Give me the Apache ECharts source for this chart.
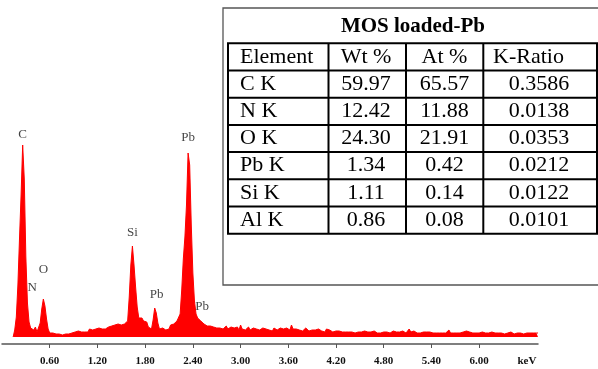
<!DOCTYPE html>
<html>
<head>
<meta charset="utf-8">
<script src="https://cdn.jsdelivr.net/npm/echarts@6/dist/echarts.min.js"></script>
<style>
  html, body { margin: 0; padding: 0; background: #fff; }
  #chart { width: 598px; height: 369px; }
</style>
</head>
<body>
<div id="chart"></div>
<script>
// EDS spectrum: counts per channel, channels start at 0.14 keV, 0.02 keV apart
const energyStart = 0.14;
const energyStep = 0.02;
const counts = [
  0, 7, 20, 52, 98, 142, 192, 158, 80, 34,
  15, 9, 11, 7, 10, 5, 4, 14, 28, 38,
  31, 18, 8, 4, 3, 4, 2, 3, 2, 3,
  3, 2, 4, 3, 5, 3, 4, 4, 3, 5,
  4, 6, 4, 5, 7, 5, 6, 5, 8, 6,
  7, 6, 8, 7, 9, 7, 8, 10, 8, 9,
  10, 9, 11, 9, 12, 10, 13, 11, 12, 14,
  13, 12, 16, 40, 72, 91, 72, 50, 30, 19,
  17, 19, 16, 18, 15, 10, 9, 8, 17, 29,
  24, 14, 8, 7, 9, 8, 7, 9, 8, 12,
  12, 13, 15, 16, 18, 23, 47, 78, 100, 132,
  184, 172, 112, 64, 36, 23, 19, 18, 16, 15,
  13, 12, 11, 10, 11, 9, 10, 11, 9, 10,
  9, 10, 8, 9, 11, 8, 9, 10, 8, 9,
  8, 10, 7, 12, 8, 9, 7, 8, 10, 7,
  8, 9, 7, 8, 10, 7, 8, 9, 7, 8,
  9, 7, 8, 6, 9, 8, 7, 8, 9, 7,
  8, 7, 9, 8, 7, 12, 8, 7, 8, 6,
  7, 8, 6, 7, 9, 7, 6, 8, 7, 6,
  7, 6, 8, 7, 6, 7, 5, 8, 6, 7,
  6, 5, 7, 6, 5, 6, 7, 5, 6, 5,
  6, 5, 7, 5, 6, 4, 6, 5, 7, 5,
  5, 6, 4, 5, 6, 5, 4, 6, 5, 4,
  5, 4, 6, 5, 4, 5, 6, 4, 5, 6,
  4, 5, 7, 5, 4, 6, 5, 4, 5, 8,
  5, 4, 6, 5, 4, 5, 4, 6, 5, 4,
  5, 4, 5, 6, 4, 5, 4, 5, 4, 6,
  4, 5, 4, 5, 7, 4, 5, 4, 5, 4,
  5, 4, 4, 5, 4, 6, 4, 5, 4, 4,
  5, 4, 5, 4, 4, 5, 4, 4, 5, 4,
  4, 5, 4, 4, 3, 4, 5, 4, 4, 3,
  4, 4, 3, 5, 4, 3, 4, 4, 3, 4,
  4, 3, 4, 4, 3, 4, 3, 4, 3, 4,
  4
];

// Peak identifications
const peakNames = ['C', 'N', 'O', 'Si', 'Pb', 'Pb', 'Pb'];
const peakEnergies = [0.26, 0.38, 0.52, 1.64, 1.92, 2.34, 2.48];

// Energy axis ticks
const tickValues = [0.6, 1.2, 1.8, 2.4, 3.0, 3.6, 4.2, 4.8, 5.4, 6.0];
const tickLabels = ['0.60', '1.20', '1.80', '2.40', '3.00', '3.60', '4.20', '4.80', '5.40', '6.00'];
const unitValue = 6.6;
const unitLabel = 'keV';

// Quantification table
const tableTitle = 'MOS loaded-Pb';
const tableHeader = ['Element', 'Wt %', 'At %', 'K-Ratio'];
const elements = ['C K', 'N K', 'O K', 'Pb K', 'Si K', 'Al K'];
const wtPercent = ['59.97', '12.42', '24.30', '1.34', '1.11', '0.86'];
const atPercent = ['65.57', '11.88', '21.91', '0.42', '0.14', '0.08'];
const kRatio = ['0.3586', '0.0138', '0.0353', '0.0212', '0.0122', '0.0101'];

const spectrum = counts.map((c, i) => [+(energyStart + i * energyStep).toFixed(2), c]);

function countAt(e) {
  const i = Math.round((e - energyStart) / energyStep);
  return counts[Math.max(0, Math.min(counts.length - 1, i))];
}

// label placement relative to each peak marker (px)
const peakLabelOffsets = [[0, -10], [0, -38], [0, -29], [0, -13], [2, -13], [0, -15], [3, -12]];
const peakPoints = peakNames.map((n, i) => ({
  name: n,
  value: [peakEnergies[i], countAt(peakEnergies[i])],
  label: { offset: peakLabelOffsets[i] }
}));

// table drawn as graphic elements
const serif = '"Liberation Serif", "Times New Roman", serif';
const tbl = { top: 43.3, rowH: 27.2, cols: [228, 328.5, 406, 483.3, 597] };
const graphics = [];
graphics.push({
  type: 'rect', shape: { x: 223, y: 8, width: 380, height: 277 },
  style: { fill: '#fff', stroke: '#555', lineWidth: 1.3 }
});
graphics.push({
  type: 'text',
  style: { text: tableTitle, x: 413, y: 27, font: 'bold 21px ' + serif, fill: '#000', align: 'center', verticalAlign: 'middle' }
});
const nRows = elements.length + 1;
for (let r = 0; r <= nRows; r++) {
  const y = tbl.top + r * tbl.rowH;
  graphics.push({ type: 'line', shape: { x1: tbl.cols[0] - 1, y1: y, x2: tbl.cols[4] + 1, y2: y }, style: { stroke: '#000', lineWidth: 2 } });
}
tbl.cols.forEach(x => {
  graphics.push({ type: 'line', shape: { x1: x, y1: tbl.top, x2: x, y2: tbl.top + nRows * tbl.rowH }, style: { stroke: '#000', lineWidth: 2 } });
});
const rows = [tableHeader].concat(elements.map((e, i) => [e, wtPercent[i], atPercent[i], kRatio[i]]));
rows.forEach((row, r) => {
  const y = tbl.top + (r + 0.5) * tbl.rowH;
  const xs = [240, 366, 444.5, r === 0 ? 493 : 539];
  const al = ['left', 'center', 'center', r === 0 ? 'left' : 'center'];
  row.forEach((t, c) => {
    graphics.push({
      type: 'text',
      style: { text: t, x: xs[c], y: y, font: '22px ' + serif, fill: '#000', align: al[c], verticalAlign: 'middle' }
    });
  });
});

const chart = echarts.init(document.getElementById('chart'), null, { renderer: 'canvas' });
chart.setOption({
  animation: false,
  backgroundColor: '#fff',
  grid: { left: 2, right: 60, top: 129, bottom: 25, containLabel: false },
  xAxis: [{
    type: 'value', min: 0, max: 6.74,
    axisLine: { show: true, onZero: false, lineStyle: { color: '#555', width: 1.5 } },
    axisTick: { show: true, customValues: tickValues, length: 4, lineStyle: { color: '#555', width: 1 } },
    axisLabel: {
      customValues: tickValues.concat([unitValue]),
      margin: 12,
      fontFamily: serif, fontWeight: 'bold', fontSize: 11, color: '#111',
      formatter: v => {
        if (Math.abs(v - unitValue) < 1e-6) return unitLabel;
        const i = tickValues.findIndex(t => Math.abs(t - v) < 1e-6);
        return i >= 0 ? tickLabels[i] : '';
      }
    },
    splitLine: { show: false }
  }, {
    type: 'value', min: 0, max: 6.74, position: 'bottom',
    axisLine: { show: false },
    axisTick: { show: true, inside: true, customValues: tickValues, length: 4, lineStyle: { color: '#555', width: 1 } },
    axisLabel: { show: false },
    splitLine: { show: false }
  }],
  yAxis: { type: 'value', min: -7, max: 208, show: false, splitLine: { show: false } },
  series: [{
    type: 'line',
    data: spectrum,
    xAxisIndex: 0,
    showSymbol: false,
    symbol: 'none',
    lineStyle: { color: '#ff0000', width: 1 },
    areaStyle: { color: '#ff0000', opacity: 1 },
    silent: true
  }, {
    type: 'scatter',
    data: peakPoints,
    xAxisIndex: 0,
    symbolSize: 0,
    label: {
      show: true, position: 'inside', formatter: p => p.name,
      fontFamily: serif, fontSize: 13, color: '#111'
    },
    silent: true
  }],
  graphic: graphics
});
</script>
</body>
</html>
